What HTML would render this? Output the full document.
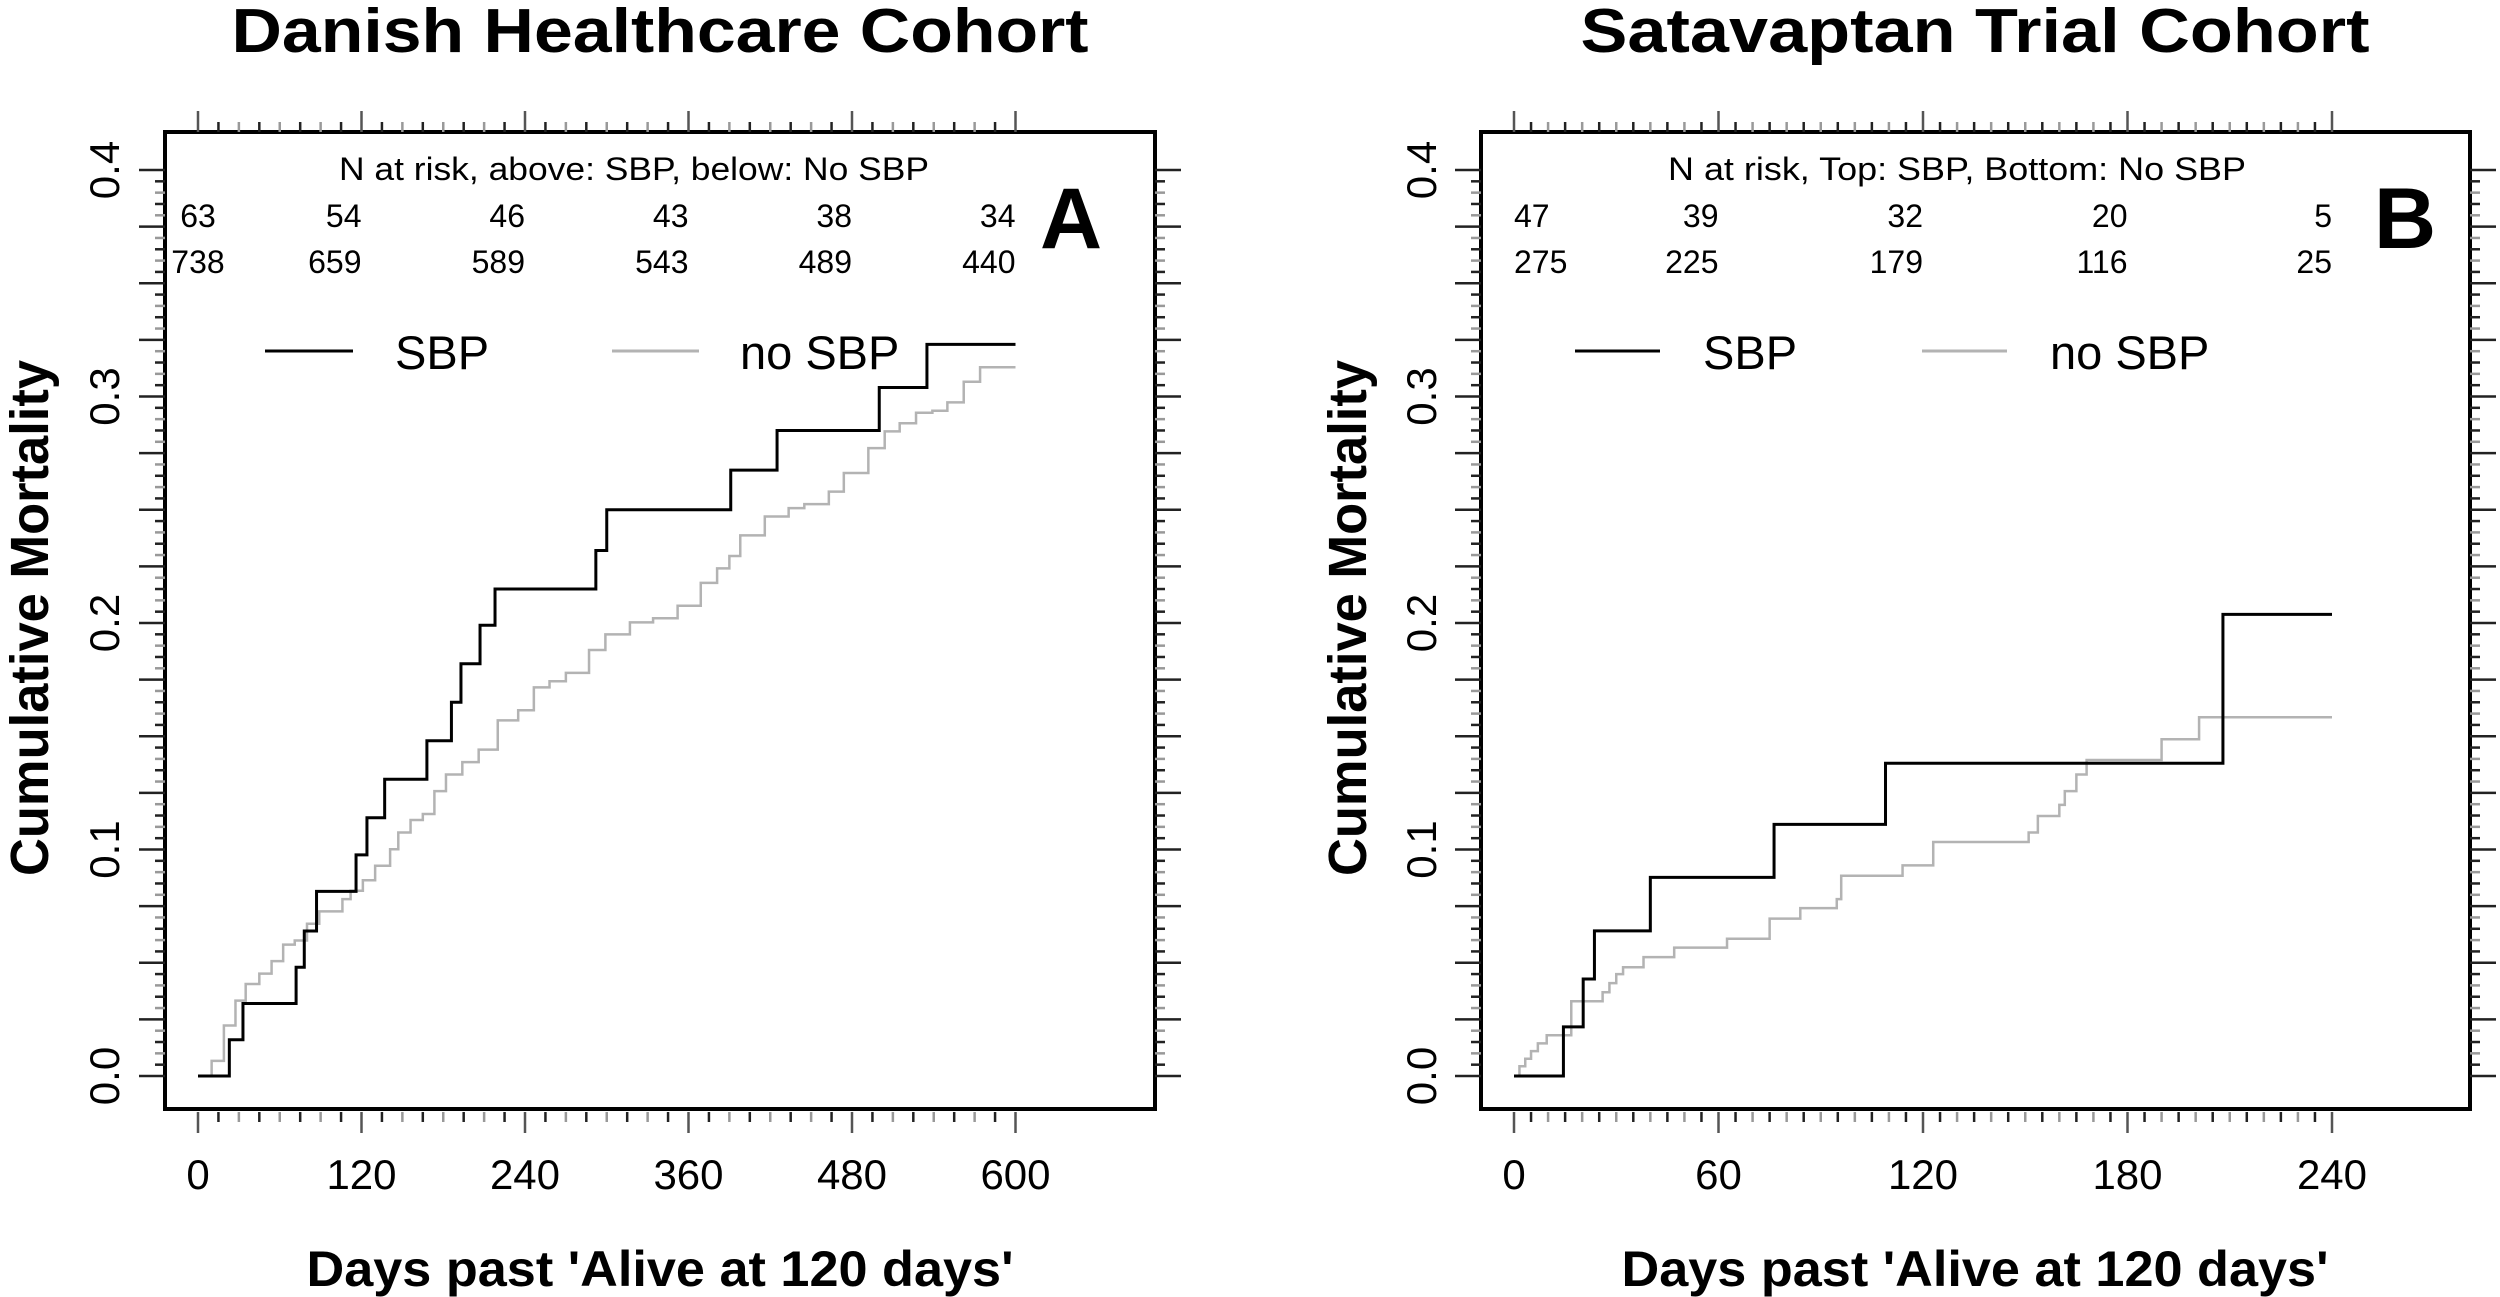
<!DOCTYPE html>
<html><head><meta charset="utf-8"><style>
html,body{margin:0;padding:0;background:#fff;}
svg{display:block;font-family:"Liberation Sans",Arial,sans-serif;}
</style></head><body>
<svg id="fig" width="2500" height="1297" viewBox="0 0 2500 1297" xmlns="http://www.w3.org/2000/svg"></svg>
<script>
// ---- Panel A data (Danish Healthcare Cohort) ----
const aSbpDays = [0, 23, 33, 72, 78, 87, 116, 124, 137, 168, 186, 193, 207, 218, 292, 300, 391, 425, 500, 535, 600];
const aSbpVals = [0, 0.016, 0.032, 0.048, 0.064, 0.0815, 0.0976, 0.114, 0.131, 0.148, 0.165, 0.182, 0.199, 0.215, 0.232, 0.250, 0.2675, 0.285, 0.304, 0.323, 0.323];
const aNoDays = [4, 10, 19, 27.5, 35, 45, 54, 62.5, 71, 80, 89, 106, 112, 121, 130, 141, 147, 156, 165, 173.5, 182, 194, 206, 220, 235, 246.5, 258, 270, 287, 299, 317, 334, 352, 369, 381, 390, 398, 416, 433.5, 445, 463, 474, 492, 504, 515, 527, 539, 550, 562, 574, 582.5, 600];
const aNoVals = [0, 0.0067, 0.0223, 0.0333, 0.0406, 0.0452, 0.0507, 0.058, 0.0598, 0.0672, 0.0727, 0.0781, 0.0818, 0.0864, 0.0928, 0.1001, 0.1075, 0.113, 0.1157, 0.1258, 0.1331, 0.1386, 0.1441, 0.157, 0.1615, 0.1716, 0.1743, 0.178, 0.1881, 0.195, 0.2003, 0.2021, 0.2076, 0.2177, 0.2241, 0.2296, 0.2387, 0.247, 0.2507, 0.2525, 0.258, 0.2662, 0.2772, 0.2846, 0.2882, 0.2928, 0.2937, 0.2974, 0.3065, 0.3129, 0.3129, 0.3129];
const aRiskTop = ["63","54","46","43","38","34"];
const aRiskBot = ["738","659","589","543","489","440"];
const aXTicks = [0,120,240,360,480,600];

// ---- Panel B data (Satavaptan Trial Cohort) ----
const bSbpDays = [0, 14.5, 20.3, 23.6, 40, 76.3, 109, 208, 240];
const bSbpVals = [0, 0.0217, 0.0428, 0.0641, 0.0877, 0.1111, 0.1381, 0.2038, 0.2038];
const bNoDays = [0, 1.6, 3.3, 5, 7, 9.6, 16.8, 26, 28, 30, 32, 38, 47, 62.5, 75, 84, 94.7, 96, 114, 123, 151, 153.7, 160, 161.6, 165, 168, 190, 201, 240];
const bNoVals = [0, 0.0043, 0.0076, 0.011, 0.0144, 0.018, 0.033, 0.037, 0.041, 0.045, 0.048, 0.0525, 0.0567, 0.0606, 0.0695, 0.0741, 0.0781, 0.0884, 0.093, 0.1033, 0.1075, 0.1148, 0.1197, 0.1258, 0.1331, 0.1395, 0.1487, 0.1584, 0.1584];
const bRiskTop = ["47","39","32","20","5"];
const bRiskBot = ["275","225","179","116","25"];
const bXTicks = [0,60,120,180,240];

const yTicks = [0,0.1,0.2,0.3,0.4];
const yTickLabels = ["0.0","0.1","0.2","0.3","0.4"];

const NS = "http://www.w3.org/2000/svg";
const svg = document.getElementById("fig");
function el(tag, attrs, parent, txt){
  const e = document.createElementNS(NS, tag);
  for (const k in attrs) e.setAttribute(k, attrs[k]);
  if (txt !== undefined) e.textContent = txt;
  (parent||svg).appendChild(e);
  return e;
}

function panel(cfg){
  const g = el("g", {});
  
  
  const Y0 = 1076, Y1 = 170; // pixel for 0 and 0.4
  const ys = v => Y0 + (Y1 - Y0) * v / 0.4;
  const xs = d => cfg.x0 + (cfg.x1 - cfg.x0) * d / cfg.xmax;

  // title
  const t = el("text", {x: cfg.titleX, y: 52, "text-anchor":"middle", "font-size":62, "font-weight":"bold", textLength: cfg.titleW, lengthAdjust:"spacingAndGlyphs"}, g, cfg.title);
  
  

  // box
  const box = el("rect", {x: cfg.bl, y: 132, width: cfg.br - cfg.bl, height: 1109 - 132, fill:"none", stroke:"#000", "stroke-width":4}, g);
  
  

  // y ticks (left & right)
  const yax = el("g", {}, g);
  
  
  for (let i = 0; i <= 80; i++){
    const v = i * 0.005, y = ys(v);
    const major = i % 5 === 0;
    const col = (i % 2 === 1) ? "#222" : (major ? "#222" : "#999");
    const len = major ? 26 : 10;
    el("line", {x1: cfg.bl - len, x2: cfg.bl, y1: y, y2: y, stroke: col, "stroke-width": 2.5}, yax);
    el("line", {x1: cfg.br, x2: cfg.br + len, y1: y, y2: y, stroke: col, "stroke-width": 2.5}, yax);
  }
  yTicks.forEach((v, i) => {
    const y = ys(v);
    const lb = el("text", {x: 0, y: 0, transform: `translate(${cfg.tlX},${y}) rotate(-90)`, "text-anchor":"middle", "font-size":42}, yax, yTickLabels[i]);
    
    
  });
  const yt = el("text", {x:0, y:0, transform:`translate(${cfg.ylX},618) rotate(-90)`, "text-anchor":"middle", "font-size":54, "font-weight":"bold", textLength:516, lengthAdjust:"spacingAndGlyphs"}, g, "Cumulative Mortality");
  
  

  // x ticks (top & bottom)
  const xax = el("g", {}, g);
  
  
  const nMinor = Math.round(cfg.xmax / cfg.minorStep);
  for (let i = 0; i <= nMinor; i++){
    const d = i * cfg.minorStep, x = xs(d);
    const major = Math.abs(d / cfg.majorStep - Math.round(d / cfg.majorStep)) < 1e-6;
    const col = (i % 2 === 0 && !major) ? "#999" : "#222";
    el("line", {x1:x, x2:x, y1:1112, y2: major ? 1133 : 1122, stroke: major ? "#555" : col, "stroke-width":2.5}, xax);
    el("line", {x1:x, x2:x, y1:132, y2: major ? 111 : 122, stroke: major ? "#555" : col, "stroke-width":2.5}, xax);
  }
  cfg.xTicks.forEach(d => {
    const lb = el("text", {x: xs(d), y: 1189, "text-anchor":"middle", "font-size":42}, xax, String(d));
    
    
  });
  const xt = el("text", {x: cfg.titleX, y: 1286, "text-anchor":"middle", "font-size":50, "font-weight":"bold", textLength:707, lengthAdjust:"spacingAndGlyphs"}, g, "Days past 'Alive at 120 days'");
  
  

  // at-risk table
  const rk = el("g", {}, g);
  
  
  el("text", {x: cfg.rhX, y: 180, "text-anchor":"middle", "font-size":32, textLength: cfg.rhW, lengthAdjust:"spacingAndGlyphs"}, rk, cfg.riskHead);
  cfg.xTicks.forEach((d, i) => {
    const anchor = i === 0 ? cfg.firstAnchor : "end";
    el("text", {x: xs(d), y: 227, "text-anchor": anchor, "font-size":32}, rk, cfg.riskTop[i]);
    el("text", {x: xs(d), y: 273, "text-anchor": anchor, "font-size":32}, rk, cfg.riskBot[i]);
  });
  const letter = el("text", {x: cfg.letterX, y: 248, "font-size":86, "font-weight":"bold"}, g, cfg.letter);
  
  

  // legend
  const lg = el("g", {}, g);
  
  
  el("line", {x1: cfg.lg[0], x2: cfg.lg[1], y1: 351, y2: 351, stroke:"#000", "stroke-width":3}, lg);
  el("text", {x: cfg.lg[2], y: 369, "font-size":47}, lg, "SBP");
  el("line", {x1: cfg.lg[3], x2: cfg.lg[4], y1: 351, y2: 351, stroke:"#b3b3b3", "stroke-width":3}, lg);
  el("text", {x: cfg.lg[5], y: 369, "font-size":47}, lg, "no SBP");

  // curves
  function stepPath(days, vals){
    let p = `M${xs(days[0])},${ys(vals[0])}`;
    for (let i = 1; i < days.length; i++){
      p += ` H${xs(days[i])} V${ys(vals[i])}`;
    }
    return p;
  }
  const noL = el("path", {d: stepPath(cfg.noDays, cfg.noVals), fill:"none", stroke:"#b3b3b3", "stroke-width":2.5}, g);
  
  
  const sL = el("path", {d: stepPath(cfg.sbpDays, cfg.sbpVals), fill:"none", stroke:"#000", "stroke-width":3}, g);
  
  
}

panel({name:"panel-a", title:"Danish Healthcare Cohort", titleX:660, titleW:857,
  bl:165, br:1155, x0:198, x1:1015.5, xmax:600, minorStep:15, majorStep:120, xTicks:aXTicks,
  tlX:119, ylX:48, riskHead:"N at risk, above: SBP, below: No SBP", rhX:634, rhW:590,
  riskTop:aRiskTop, riskBot:aRiskBot, firstAnchor:"middle", letter:"A", letterX:1040,
  lg:[265,353,395,612,699,740], sbpDays:aSbpDays, sbpVals:aSbpVals, noDays:aNoDays, noVals:aNoVals});
panel({name:"panel-b", title:"Satavaptan Trial Cohort", titleX:1975, titleW:789,
  bl:1481, br:2470, x0:1514, x1:2332, xmax:240, minorStep:5, majorStep:60, xTicks:bXTicks,
  tlX:1436, ylX:1366, riskHead:"N at risk, Top: SBP, Bottom: No SBP", rhX:1957, rhW:578,
  riskTop:bRiskTop, riskBot:bRiskBot, firstAnchor:"start", letter:"B", letterX:2374,
  lg:[1575,1660,1703,1922,2007,2050], sbpDays:bSbpDays, sbpVals:bSbpVals, noDays:bNoDays, noVals:bNoVals});
</script>
</body></html>
